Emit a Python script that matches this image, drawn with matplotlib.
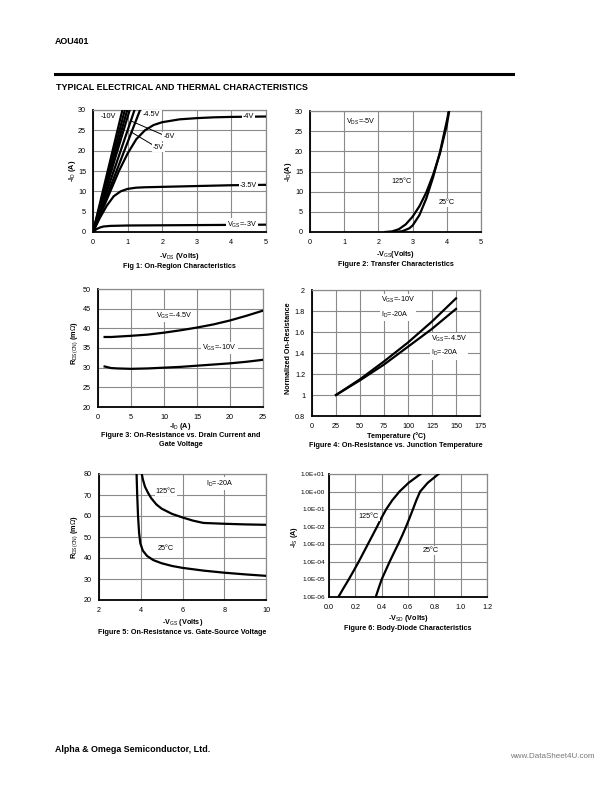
import matplotlib
matplotlib.use('Agg')
import matplotlib.pyplot as plt
import numpy as np

plt.rcParams['font.family'] = ['Liberation Sans', 'DejaVu Sans']
plt.rcParams['mathtext.fontset'] = 'custom'
plt.rcParams['mathtext.rm'] = 'Liberation Sans'
plt.rcParams['mathtext.it'] = 'Liberation Sans:italic'
plt.rcParams['mathtext.bf'] = 'Liberation Sans:bold'

# ---------------- DATA ----------------
# Fig 1: On-region characteristics (-VDS vs -ID)
f1_vgs_labels = ['-10V', '-8V', '-7V', '-6V', '-5V', '-4.5V']
f1_steep_x30 = [0.85, 0.92, 0.99, 1.06, 1.20, 1.36]   # -VDS where each steep curve reaches 30 A
f1_vgs4_x = [0, 0.25, 0.5, 0.75, 1.0, 1.25, 1.5, 1.75, 2.0, 2.5, 3.0, 3.5, 4.0, 5.0]
f1_vgs4_y = [0, 5, 10, 15, 19.3, 22.8, 25.0, 26.3, 27.0, 27.7, 28.0, 28.2, 28.3, 28.4]
f1_vgs35_x = [0, 0.2, 0.4, 0.6, 0.8, 1.0, 1.25, 1.5, 2.0, 3.0, 4.0, 5.0]
f1_vgs35_y = [0, 3.5, 6.5, 8.8, 10.0, 10.6, 10.9, 11.0, 11.1, 11.3, 11.5, 11.6]
f1_vgs3_x = [0, 0.1, 0.2, 0.3, 0.5, 0.75, 1.0, 2.0, 3.0, 4.0, 5.0]
f1_vgs3_y = [0, 0.7, 1.1, 1.35, 1.5, 1.55, 1.6, 1.65, 1.7, 1.75, 1.8]

# Fig 2: Transfer characteristics
f2_125_x = [2.2, 2.4, 2.6, 2.8, 3.0, 3.2, 3.4, 3.6, 3.8, 4.0, 4.07]
f2_125_y = [0, 0.15, 0.7, 1.9, 3.8, 6.4, 9.8, 14.2, 19.5, 26.5, 30]
f2_25_x = [2.5, 2.7, 2.9, 3.0, 3.2, 3.4, 3.6, 3.8, 4.0, 4.06]
f2_25_y = [0, 0.2, 0.9, 1.6, 4.2, 8.3, 13.6, 19.8, 27.5, 30]

# Fig 3: On-resistance vs drain current
f3_id = [1, 2, 3, 5, 7.5, 10, 12.5, 15, 17.5, 20, 22.5, 25]
f3_r45 = [37.8, 37.8, 37.9, 38.1, 38.4, 38.9, 39.5, 40.2, 41.0, 42.0, 43.2, 44.5]
f3_r10 = [30.3, 29.9, 29.8, 29.7, 29.8, 30.0, 30.2, 30.5, 30.8, 31.1, 31.5, 32.0]

# Fig 4: Normalized on-resistance vs temperature
f4_t = [25, 50, 75, 100, 125, 150]
f4_n10 = [1.0, 1.15, 1.32, 1.50, 1.70, 1.92]
f4_n45 = [1.0, 1.14, 1.29, 1.46, 1.63, 1.82]

# Fig 5: On-resistance vs gate-source voltage
f5_25_x = [3.8, 3.83, 3.87, 3.92, 3.98, 4.1, 4.3, 4.6, 5.0, 5.5, 6, 7, 8, 9, 10]
f5_25_y = [80, 70, 60, 52, 47, 43.5, 41, 39, 37.5, 36.2, 35.3, 34, 33, 32.2, 31.5]
f5_125_x = [4.05, 4.1, 4.2, 4.35, 4.5, 4.75, 5, 5.5, 6, 6.5, 7, 8, 9, 10]
f5_125_y = [80, 77.5, 74, 71, 68.5, 65.5, 63.5, 61, 59.3, 57.8, 56.7, 56.3, 56, 55.8]

# Fig 6: Body-diode characteristics (half-decade steps of -IS)
f6_log_is = [-6, -5.5, -5, -4.5, -4, -3.5, -3, -2.5, -2, -1.5, -1, -0.5, 0, 0.5, 1]
f6_125_v = [0.071, 0.11, 0.15, 0.188, 0.225, 0.26, 0.295, 0.33, 0.365, 0.398, 0.435, 0.48, 0.535, 0.605, 0.695]
f6_25_v = [0.355, 0.377, 0.40, 0.43, 0.46, 0.492, 0.525, 0.556, 0.585, 0.612, 0.638, 0.663, 0.692, 0.75, 0.832]
f6_ytick_labels = ['1.0E-06', '1.0E-05', '1.0E-04', '1.0E-03', '1.0E-02', '1.0E-01', '1.0E+00', '1.0E+01']

# ---------------- LAYOUT ----------------
W, H = 612, 792
fig = plt.figure(figsize=(6.12, 7.92), dpi=100)

FS = 5.2
GRID = '#8a8a8a'
LW = 1.6


def ax_at(l, t, r, b):
    return fig.add_axes([l / W, 1 - b / H, (r - l) / W, (b - t) / H])


def ftext(x, y, s, **kw):
    kw.setdefault('fontsize', FS)
    fig.text(x / W, 1 - y / H, s, **kw)


def style(ax, fs=FS):
    ax.grid(True, color=GRID, lw=0.8, zorder=0)
    ax.set_axisbelow(True)
    for s in ['left', 'bottom']:
        ax.spines[s].set_color('black')
        ax.spines[s].set_linewidth(1.3)
    for s in ['top', 'right']:
        ax.spines[s].set_color(GRID)
        ax.spines[s].set_linewidth(0.9)
    ax.tick_params(length=0, labelsize=fs, pad=5)


box = dict(facecolor='white', edgecolor='none', pad=0.8)

# Header / footer
ftext(55, 41, 'AOU401', fontsize=6.4, fontweight='bold', va='center')
fig.add_artist(plt.Line2D([55 / W, 513 / W], [1 - 74 / H, 1 - 74 / H], color='black', lw=2.2))
ftext(56, 87, 'TYPICAL ELECTRICAL AND THERMAL CHARACTERISTICS', fontsize=6.4, fontweight='bold', va='center')
ftext(55, 749, 'Alpha & Omega Semiconductor, Ltd.', fontsize=6.4, fontweight='bold', va='center')
ftext(595, 756, 'www.DataSheet4U.com', fontsize=5.8, color='#777777', ha='right', va='center')

# ---------- Fig 1 ----------
ax1 = ax_at(93, 110, 266, 232)
style(ax1)
ax1.set_xlim(0, 5)
ax1.set_ylim(0, 30)
ax1.set_xticks(range(0, 6))
ax1.set_yticks(range(0, 31, 5))
for x30 in f1_steep_x30:
    ax1.plot([0, x30], [0, 30], color='black', lw=LW, zorder=3, clip_on=True)
ax1.plot(f1_vgs4_x, f1_vgs4_y, color='black', lw=LW, zorder=3)
ax1.plot(f1_vgs35_x, f1_vgs35_y, color='black', lw=LW, zorder=3)
ax1.plot(f1_vgs3_x, f1_vgs3_y, color='black', lw=LW, zorder=3)
ax1.plot([2.02, 1.1], [23.9, 27.3], color='black', lw=0.7, zorder=3)
ax1.plot([1.75, 1.1], [21.3, 24.6], color='black', lw=0.7, zorder=3)
ax1.text(0.45, 28.4, '-10V', fontsize=FS, ha='center', va='center', bbox=box, zorder=5)
ax1.text(1.7, 28.9, '-4.5V', fontsize=FS, ha='center', va='center', bbox=box, zorder=5)
ax1.text(2.2, 23.5, '-6V', fontsize=FS, ha='center', va='center', bbox=box, zorder=5)
ax1.text(1.9, 20.8, '-5V', fontsize=FS, ha='center', va='center', bbox=box, zorder=5)
ax1.text(4.5, 28.3, '-4V', fontsize=FS, ha='center', va='center', bbox=box, zorder=5)
ax1.text(4.5, 11.5, '-3.5V', fontsize=FS, ha='center', va='center', bbox=box, zorder=5)
ax1.text(4.3, 1.8, r'V$_{\mathrm{GS}}$=-3V', fontsize=FS, ha='center', va='center', bbox=box, zorder=5)
ftext(72, 171, r'-I$_{\mathrm{D}}$ (A)', rotation=90, ha='center', va='center', fontweight='bold')
ftext(179.5, 257, r'-V$_{\mathrm{DS}}$ (Volts)', ha='center', va='center', fontweight='bold')
ftext(179.5, 267, 'Fig 1: On-Region Characteristics', ha='center', va='center', fontweight='bold')

# ---------- Fig 2 ----------
ax2 = ax_at(310, 111, 481, 232)
style(ax2)
ax2.set_xlim(0, 5)
ax2.set_ylim(0, 30)
ax2.set_xticks(range(0, 6))
ax2.set_yticks(range(0, 31, 5))
ax2.plot(f2_125_x, f2_125_y, color='black', lw=LW, zorder=3)
ax2.plot(f2_25_x, f2_25_y, color='black', lw=LW, zorder=3)
ax2.text(1.5, 27.2, r'V$_{\mathrm{DS}}$=-5V', fontsize=FS, ha='center', va='center', bbox=box, zorder=5)
ax2.text(2.68, 12.6, '125°C', fontsize=FS, ha='center', va='center', bbox=box, zorder=5)
ax2.text(4.0, 7.4, '25°C', fontsize=FS, ha='center', va='center', bbox=box, zorder=5)
ftext(289, 172, r'-I$_{\mathrm{D}}$(A)', rotation=90, ha='center', va='center', fontweight='bold')
ftext(395.5, 254, r'-V$_{\mathrm{GS}}$(Volts)', ha='center', va='center', fontweight='bold')
ftext(395.5, 265, 'Figure 2: Transfer Characteristics', ha='center', va='center', fontweight='bold')

# ---------- Fig 3 ----------
ax3 = ax_at(98, 289, 263, 407)
style(ax3)
ax3.set_xlim(0, 25)
ax3.set_ylim(20, 50)
ax3.set_xticks(range(0, 26, 5))
ax3.set_yticks(range(20, 51, 5))
ax3.plot(f3_id, f3_r45, color='black', lw=LW, zorder=3)
ax3.plot(f3_id, f3_r10, color='black', lw=LW, zorder=3)
ax3.text(11.5, 43.2, r'V$_{\mathrm{GS}}$=-4.5V', fontsize=FS, ha='center', va='center', bbox=box, zorder=5)
ax3.text(18.4, 35.0, r'V$_{\mathrm{GS}}$=-10V', fontsize=FS, ha='center', va='center', bbox=box, zorder=5)
ftext(75, 343, r'R$_{\mathrm{DS(ON)}}$ (m$\Omega$)', rotation=90, ha='center', va='center', fontweight='bold')
ftext(180.5, 426, r'-I$_{\mathrm{D}}$ (A)', ha='center', va='center', fontweight='bold')
ftext(180.5, 435.5, 'Figure 3: On-Resistance vs. Drain Current and', ha='center', va='center', fontweight='bold')
ftext(180.5, 445, 'Gate Voltage', ha='center', va='center', fontweight='bold')

# ---------- Fig 4 ----------
ax4 = ax_at(312, 290, 480, 416)
style(ax4)
ax4.set_xlim(0, 175)
ax4.set_ylim(0.8, 2.0)
ax4.set_xticks(range(0, 176, 25))
ax4.set_yticks([0.8, 1.0, 1.2, 1.4, 1.6, 1.8, 2.0])
ax4.set_yticklabels(['0.8', '1', '1.2', '1.4', '1.6', '1.8', '2'])
ax4.plot(f4_t, f4_n10, color='black', lw=LW, zorder=3)
ax4.plot(f4_t, f4_n45, color='black', lw=LW, zorder=3)
ax4.text(72, 1.835, 'V$_{\\mathrm{GS}}$=-10V\nI$_{\\mathrm{D}}$=-20A', fontsize=FS, ha='left', va='center',
         bbox=box, zorder=5, linespacing=1.6)
ax4.text(124, 1.465, 'V$_{\\mathrm{GS}}$=-4.5V\nI$_{\\mathrm{D}}$=-20A', fontsize=FS, ha='left', va='center',
         bbox=box, zorder=5, linespacing=1.6)
ftext(288, 348, 'Normalized On-Resistance', rotation=90, ha='center', va='center', fontweight='bold')
ftext(396, 436.5, 'Temperature (°C)', ha='center', va='center', fontweight='bold')
ftext(396, 445.5, 'Figure 4: On-Resistance vs. Junction Temperature', ha='center', va='center', fontweight='bold')

# ---------- Fig 5 ----------
ax5 = ax_at(99, 474, 266, 600)
style(ax5)
ax5.set_xlim(2, 10)
ax5.set_ylim(20, 80)
ax5.set_xticks(range(2, 11, 2))
ax5.set_yticks(range(20, 81, 10))
ax5.plot(f5_25_x, f5_25_y, color='black', lw=LW, zorder=3)
ax5.plot(f5_125_x, f5_125_y, color='black', lw=LW, zorder=3)
ax5.text(5.2, 71.7, '125°C', fontsize=FS, ha='center', va='center', bbox=box, zorder=5)
ax5.text(7.8, 75.4, r'I$_{\mathrm{D}}$=-20A', fontsize=FS, ha='center', va='center', bbox=box, zorder=5)
ax5.text(5.2, 44.6, '25°C', fontsize=FS, ha='center', va='center', bbox=box, zorder=5)
ftext(75, 537, r'R$_{\mathrm{DS(ON)}}$ (m$\Omega$)', rotation=90, ha='center', va='center', fontweight='bold')
ftext(182.5, 622, r'-V$_{\mathrm{GS}}$ (Volts)', ha='center', va='center', fontweight='bold')
ftext(182.5, 632.5, 'Figure 5: On-Resistance vs. Gate-Source Voltage', ha='center', va='center', fontweight='bold')

# ---------- Fig 6 ----------
ax6 = ax_at(329, 474, 487, 597)
style(ax6, fs=4.6)
ax6.tick_params(axis='y', pad=3)
ax6.set_yscale('log')
ax6.set_xlim(0, 1.2)
ax6.set_ylim(1e-6, 1e1)
ax6.set_xticks(np.arange(0, 1.21, 0.2))
ax6.set_xticklabels(['0.0', '0.2', '0.4', '0.6', '0.8', '1.0', '1.2'])
ax6.tick_params(axis='x', labelsize=FS)
ax6.set_yticks([1e-6, 1e-5, 1e-4, 1e-3, 1e-2, 1e-1, 1e0, 1e1])
ax6.set_yticklabels(f6_ytick_labels)
ax6.yaxis.set_minor_locator(matplotlib.ticker.NullLocator())
f6_is = [10.0 ** e for e in f6_log_is]
ax6.plot(f6_125_v, f6_is, color='black', lw=LW, zorder=3)
ax6.plot(f6_25_v, f6_is, color='black', lw=LW, zorder=3)
ax6.text(0.30, 0.04, '125°C', fontsize=FS, ha='center', va='center', bbox=box, zorder=5)
ax6.text(0.77, 10 ** -3.33, '25°C', fontsize=FS, ha='center', va='center', bbox=box, zorder=5)
ftext(294, 537, r'-I$_{\mathrm{S}}$ (A)', rotation=90, ha='center', va='center', fontweight='bold')
ftext(408, 618, r'-V$_{\mathrm{SD}}$ (Volts)', ha='center', va='center', fontweight='bold')
ftext(408, 629, 'Figure 6: Body-Diode Characteristics', ha='center', va='center', fontweight='bold')

fig.savefig('out.png', dpi=100)
